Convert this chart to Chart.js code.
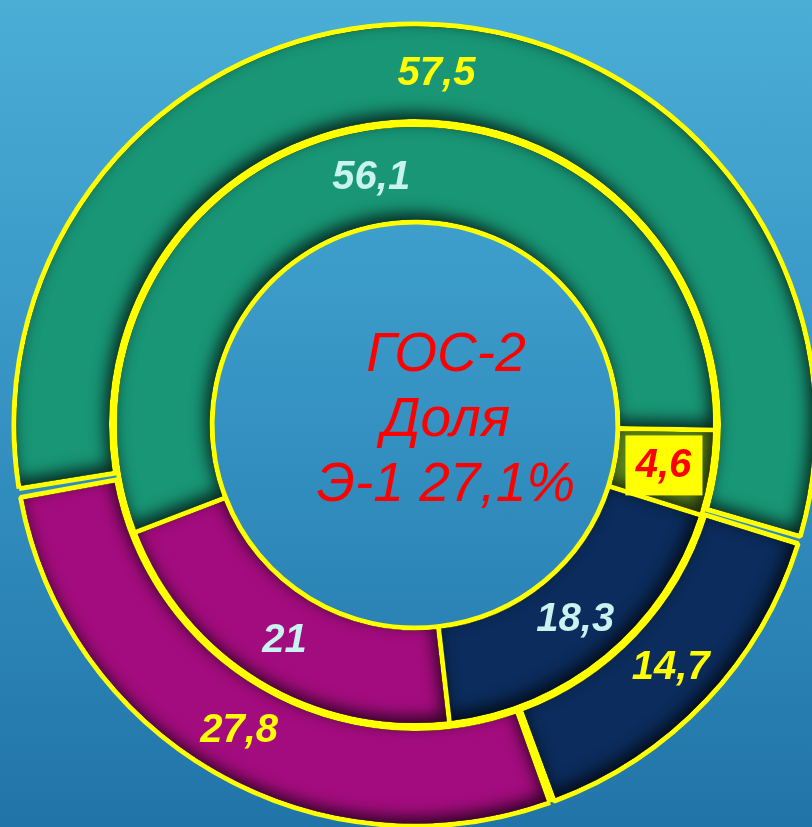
<!DOCTYPE html>
<html lang="ru">
<head>
<meta charset="utf-8">
<title>ГОС-2 Доля</title>
<script src="https://cdn.jsdelivr.net/npm/chart.js@4.4.1/dist/chart.umd.min.js"></script>
<style>
  html, body { margin: 0; padding: 0; }
  body {
    width: 812px; height: 827px; overflow: hidden; position: relative;
    background: linear-gradient(180deg, #4aaed5 0%, #3592c3 50%, #2174a8 100%);
  }
  #wrap { position: absolute; left: 0; top: 0; width: 812px; height: 827px; }
  #center-title {
    position: absolute; left: 246px; top: 320px; width: 400px;
    text-align: center; color: #ff0000;
    font: italic 400 55px/65px "Liberation Sans", Arial, sans-serif;
  }
</style>
</head>
<body>
<div id="wrap"><canvas id="chart"></canvas></div>
<div id="center-title">ГОС-2<br>Доля<br>Э-1 27,1%</div>

<script>
/* ── данные ─────────────────────────────────────────────── */
// внешнее кольцо
const outerLabels = ['Зелёный', 'Синий', 'Пурпурный'];
const outerValues = [57.5, 14.7, 27.8];
// внутреннее кольцо
const innerLabels = ['Зелёный', 'Оливковый', 'Синий', 'Пурпурный'];
const innerValues = [56.1, 4.6, 18.3, 21];

/* ── стили ──────────────────────────────────────────────── */
const GREEN = '#189676', NAVY = '#0b2c5c', MAGENTA = '#a30c7e', OLIVE = '#5e8a1c';
const YELLOW = '#ffff00';
const BORDER = 5;
const outerColors = [GREEN, NAVY, MAGENTA];
const innerColors = [GREEN, OLIVE, NAVY, MAGENTA];
const outerLabelColor = '#ffff00';
const innerLabelColor = '#c8f3f0';
const boxedSlice = { dataset: 1, index: 1 };   // «4,6» в жёлтой рамке

const fmt = v => String(v).replace('.', ',');

/* путь сектора (для внутренней тени) */
function slicePath(ctx, a, pad) {
  const s = (a.options.spacing || 0) / 2;
  const r1 = a.outerRadius + s - pad, r0 = a.innerRadius + s + pad;
  const alpha = a.endAngle - a.startAngle;
  const av = (a.innerRadius + a.outerRadius) / 2;
  const so = s ? (alpha - alpha * av / (av + s)) / 2 : 0;
  const st = a.startAngle + so, en = a.endAngle - so;
  ctx.moveTo(a.x + Math.cos(st + pad / r1) * r1, a.y + Math.sin(st + pad / r1) * r1);
  ctx.arc(a.x, a.y, r1, st + pad / r1, en - pad / r1);
  ctx.arc(a.x, a.y, r0, en - pad / r0, st + pad / r0, true);
  ctx.closePath();
}

/* внутренняя тень у нижних краёв секторов */
const insetShadow = {
  id: 'insetShadow',
  afterDatasetsDraw(chart) {
    const ctx = chart.ctx;
    chart.data.datasets.forEach((ds, di) => {
      chart.getDatasetMeta(di).data.forEach(a => {
        ctx.save();
        ctx.beginPath(); slicePath(ctx, a, BORDER / 2); ctx.clip();
        ctx.beginPath();
        ctx.rect(-2000, -2000, 5000, 5000);
        slicePath(ctx, a, BORDER / 2);
        ctx.shadowColor = 'rgba(0,0,0,0.75)';
        ctx.shadowBlur = 16;
        ctx.shadowOffsetX = -4;
        ctx.shadowOffsetY = -6;
        ctx.fillStyle = '#000';
        ctx.fill('evenodd');
        ctx.restore();
      });
    });
  }
};

/* подписи значений в центрах секторов */
const sliceLabels = {
  id: 'sliceLabels',
  afterDatasetsDraw(chart) {
    const ctx = chart.ctx;
    ctx.save();
    ctx.textAlign = 'center';
    ctx.textBaseline = 'middle';
    ctx.font = 'italic bold 40px "Liberation Sans", Arial, sans-serif';
    chart.data.datasets.forEach((ds, di) => {
      chart.getDatasetMeta(di).data.forEach((arc, i) => {
        const p = arc.getCenterPoint();
        const txt = fmt(ds.data[i]);
        if (di === boxedSlice.dataset && i === boxedSlice.index) {
          ctx.fillStyle = YELLOW;
          ctx.fillRect(p.x - 38, p.y - 30, 77, 60);
          ctx.fillStyle = '#ff0000';
        } else {
          ctx.fillStyle = di === 0 ? outerLabelColor : innerLabelColor;
        }
        ctx.fillText(txt, p.x, p.y + 1);
      });
    });
    ctx.restore();
  }
};

new Chart(document.getElementById('chart'), {
  type: 'doughnut',
  data: {
    labels: outerLabels,
    datasets: [
      {
        data: outerValues,
        backgroundColor: outerColors,
        borderColor: YELLOW,
        borderWidth: BORDER,
        spacing: 6,
        rotation: 260
      },
      {
        labels: innerLabels,
        data: innerValues,
        backgroundColor: innerColors,
        borderColor: YELLOW,
        borderWidth: BORDER,
        rotation: 249
      }
    ]
  },
  options: {
    responsive: true,
    maintainAspectRatio: false,
    animation: false,
    events: [],
    radius: 398,
    cutout: '51%',
    layout: { padding: { left: 18, right: 0, top: 23, bottom: 0 } },
    plugins: {
      legend: { display: false },
      tooltip: { enabled: false }
    }
  },
  plugins: [insetShadow, sliceLabels]
});
</script>
</body>
</html>
